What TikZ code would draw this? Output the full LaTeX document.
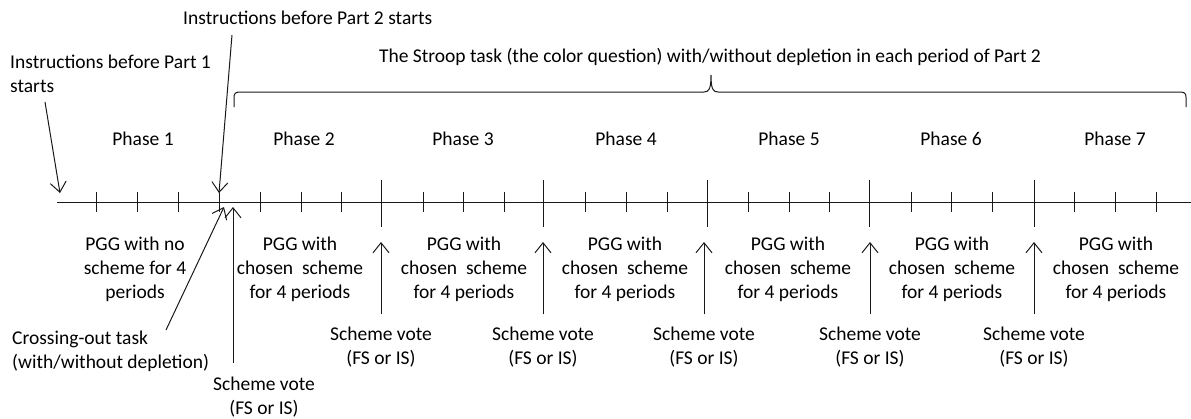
\documentclass[tikz,border=0pt]{standalone}
\usepackage{fontspec}
\setmainfont{Carlito}
\usetikzlibrary{arrows.meta}
\begin{document}
\begin{tikzpicture}[x=1pt,y=-1pt,
  lbl/.style={font=\fontsize{19.5}{23.8}\selectfont, inner sep=0pt, align=center},
  lblL/.style={lbl, align=left},
  ln/.style={line width=1pt, draw=black!90},
  arr/.style={ln, -{Straight Barb[length=10pt,width=16pt]}},
  tick/.style={ln},
]
\useasboundingbox (0,0) rectangle (1191,418);
% axis
\coordinate (ax0) at (57,202);
\coordinate (ax1) at (1191,202);
\draw[ln] (ax0) -- (ax1);
% small ticks
\foreach \x in {96,137,178,219,260,301,341,423,463,504,585,626,667,748,789,829,911,951,992,1074,1115,1156}
  \draw[tick] (\x,192) -- (\x,212);
% major ticks
\foreach \x in {381,543,707,869,1034}
  \draw[tick] (\x,180) -- (\x,227);
% brace
\draw[ln] (234,107) -- (234,97) .. controls (234,93) and (236,92) .. (241,92) -- (704,92)
  .. controls (709,92) and (711,89) .. (711,75) .. controls (711,89) and (713,92) .. (718,92)
  -- (1179,92) .. controls (1184,92) and (1186,93) .. (1186,97) -- (1186,107);
% texts
\node[lbl] (stroop) at (710,57) {The Stroop task (the color question) with/without depletion in each period of Part 2};
\node[lbl, anchor=west] (inst2) at (183,18) {Instructions before Part 2 starts};
\node[lblL, anchor=west] (inst1) at (10,74) {Instructions before Part 1\\starts};
\node[lbl] (ph1) at (143,139) {Phase 1};
\node[lbl] (ph2) at (304,139) {Phase 2};
\node[lbl] (ph3) at (463,139) {Phase 3};
\node[lbl] (ph4) at (626,139) {Phase 4};
\node[lbl] (ph5) at (789,139) {Phase 5};
\node[lbl] (ph6) at (951,139) {Phase 6};
\node[lbl] (ph7) at (1115,139) {Phase 7};
\node[lbl] (pgg1) at (135,269) {PGG with no\\scheme for 4\\periods};
\node[lbl] (pgg2) at (300,269) {PGG with\\chosen\ \ scheme\\for 4 periods};
\node[lbl] (pgg3) at (464,269) {PGG with\\chosen\ \ scheme\\for 4 periods};
\node[lbl] (pgg4) at (625,269) {PGG with\\chosen\ \ scheme\\for 4 periods};
\node[lbl] (pgg5) at (788,269) {PGG with\\chosen\ \ scheme\\for 4 periods};
\node[lbl] (pgg6) at (952,269) {PGG with\\chosen\ \ scheme\\for 4 periods};
\node[lbl] (pgg7) at (1116,269) {PGG with\\chosen\ \ scheme\\for 4 periods};
\node[lblL, anchor=west] (cross) at (12,351) {Crossing-out task\\(with/without depletion)};
\node[lbl] (vote1) at (264,397) {Scheme vote\\(FS or IS)};
\node[lbl] (vote2) at (381,347) {Scheme vote\\(FS or IS)};
\node[lbl] (vote3) at (543,347) {Scheme vote\\(FS or IS)};
\node[lbl] (vote4) at (704,347) {Scheme vote\\(FS or IS)};
\node[lbl] (vote5) at (870,347) {Scheme vote\\(FS or IS)};
\node[lbl] (vote6) at (1034,347) {Scheme vote\\(FS or IS)};
% arrow end points
\coordinate (i1s) at (45,102);  \coordinate (i1e) at (60,193);
\coordinate (i2s) at (232,35);  \coordinate (i2e) at (219,193);
\coordinate (cs) at (166,330);  \coordinate (ce) at (224,207);
\coordinate (v1s) at (233,363); \coordinate (v1e) at (233,207);
\coordinate (v2s) at (381,314); \coordinate (v2e) at (381,242);
\coordinate (v3s) at (543,314); \coordinate (v3e) at (543,242);
\coordinate (v4s) at (704,314); \coordinate (v4e) at (704,242);
\coordinate (v5s) at (870,314); \coordinate (v5e) at (870,242);
\coordinate (v6s) at (1034,314); \coordinate (v6e) at (1034,242);
\draw[arr] (i1s) -- (i1e);
\draw[arr] (i2s) -- (i2e);
\draw[arr] (cs) -- (ce);
\draw[arr] (v1s) -- (v1e);
\draw[arr] (v2s) -- (v2e);
\draw[arr] (v3s) -- (v3e);
\draw[arr] (v4s) -- (v4e);
\draw[arr] (v5s) -- (v5e);
\draw[arr] (v6s) -- (v6e);
\end{tikzpicture}
\end{document}
